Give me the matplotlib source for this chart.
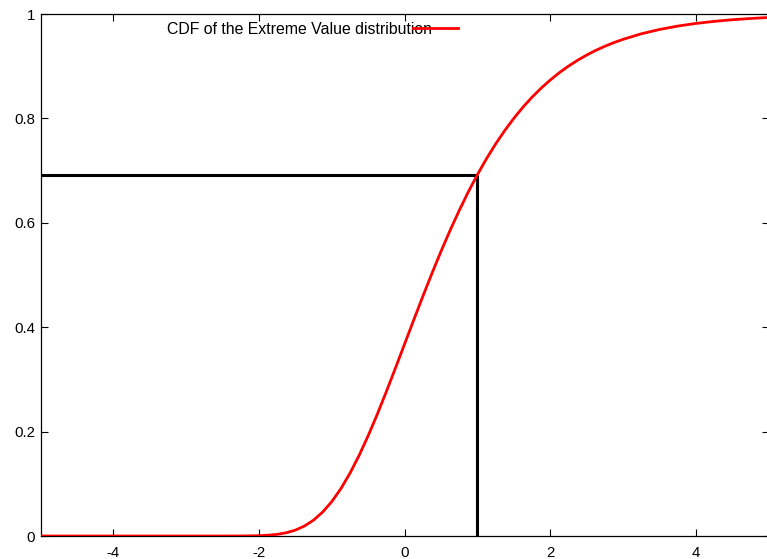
import matplotlib
matplotlib.use('Agg')
from matplotlib import pyplot as pl

# CDF of the extreme value distribution
x = [-5.0, -4.5, -4.0, -3.5, -3.0, -2.75, -2.5, -2.25, -2.0, -1.875, -1.75,
     -1.625, -1.5, -1.375, -1.25, -1.125, -1.0, -0.875, -0.75, -0.625, -0.5,
     -0.375, -0.25, -0.125, 0.0, 0.125, 0.25, 0.375, 0.5, 0.625, 0.75, 0.875,
     1.0, 1.125, 1.25, 1.375, 1.5, 1.625, 1.75, 1.875, 2.0, 2.125, 2.25,
     2.375, 2.5, 2.625, 2.75, 2.875, 3.0, 3.25, 3.5, 3.75, 4.0, 4.25, 4.5,
     4.75, 5.0]
cdf = [0.0, 0.0, 0.0, 0.0, 0.0, 0.0, 0.000005, 0.000076, 0.00062, 0.00147,
       0.00317, 0.00623, 0.0113, 0.0192, 0.0305, 0.0460, 0.0660, 0.0908,
       0.1204, 0.1544, 0.1923, 0.2334, 0.2769, 0.3220, 0.3679, 0.4137,
       0.4589, 0.5029, 0.5453, 0.5855, 0.6235, 0.6591, 0.6922, 0.7228,
       0.7509, 0.7766, 0.8000, 0.8213, 0.8405, 0.8578, 0.8734, 0.8875,
       0.9000, 0.9112, 0.9212, 0.9302, 0.9381, 0.9452, 0.9514, 0.9620,
       0.9703, 0.9768, 0.9819, 0.9858, 0.9890, 0.9914, 0.9933]

# quantile marked with the black guide lines
q_x = 1.0
q_p = 0.692

xticks = [-4, -2, 0, 2, 4]
xticklabels = ['-4', '-2', '0', '2', '4']
yticks = [0, 0.2, 0.4, 0.6, 0.8, 1]
yticklabels = ['0', '0.2', '0.4', '0.6', '0.8', '1']

pl.rcParams['font.family'] = ['Liberation Sans', 'DejaVu Sans']

fig = pl.figure(figsize=(7.67, 5.59), dpi=100)
ax = fig.add_axes([40.7/767, 23.0/559, (768.5-40.7)/767, (536.0-14.0)/559])

xmin, xmax = -5, 5
ax.hlines(q_p, xmin, q_x, color='k', linewidth=2.2, zorder=2)
ax.vlines(q_x, 0, q_p, color='k', linewidth=2.2, zorder=2)
ax.plot(x, cdf, color='#ff0000', linewidth=2.0, zorder=3,
        label='CDF of the Extreme Value distribution')

ax.set_xlim(xmin, xmax)
ax.set_ylim(0, 1)
ax.set_xticks(xticks)
ax.set_xticklabels(xticklabels)
ax.set_yticks(yticks)
ax.set_yticklabels(yticklabels)
ax.tick_params(direction='in', length=5, width=0.8, top=True, right=True,
               labelsize=10.8, colors='k')
ax.tick_params(axis='x', pad=7)
ax.tick_params(axis='y', pad=4)
for s in ax.spines.values():
    s.set_linewidth(0.9)

ax.legend(loc='upper left', bbox_to_anchor=(0.1622, 1.0), frameon=False,
          markerfirst=False, fontsize=11.4, handlelength=2.85,
          handletextpad=-1.18, borderaxespad=0.1)

fig.savefig('out.png', dpi=100)
